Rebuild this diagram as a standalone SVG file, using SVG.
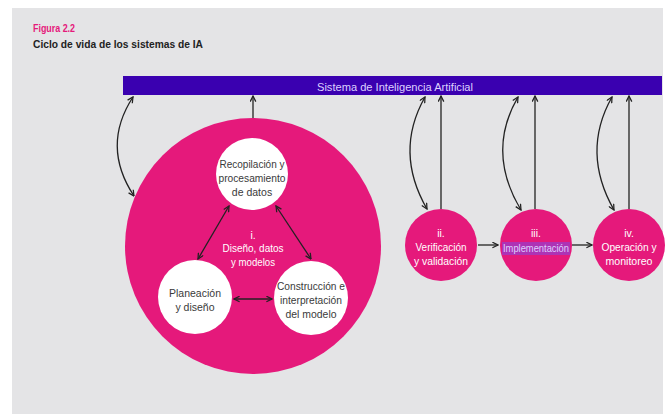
<svg xmlns="http://www.w3.org/2000/svg" width="665" height="414" viewBox="0 0 665 414">
<style>
.t{font-family:"Liberation Sans","DejaVu Sans",sans-serif;text-anchor:middle}
.dk{fill:#3a3a3a;font-size:10.5px}
.wh{fill:#ffffff;font-size:10.5px}
.ln{fill:none;stroke:#222;stroke-width:1.3}
.pink{fill:#e5197b}
</style>
<defs>
<marker id="ah" viewBox="0 0 10 10" refX="9" refY="5" markerWidth="7" markerHeight="7" markerUnits="userSpaceOnUse" orient="auto-start-reverse">
<path d="M1,1 L9,5 L1,9" fill="none" stroke="#222" stroke-width="1.8"/>
</marker>
</defs>
<rect x="0" y="0" width="665" height="414" fill="#ffffff"/>
<rect x="12" y="8" width="651" height="406" fill="#e4e4e6"/>
<text x="33" y="32" font-family="Liberation Sans,sans-serif" font-size="10.5" font-weight="bold" fill="#e5197b" textLength="42" lengthAdjust="spacingAndGlyphs">Figura 2.2</text>
<text x="33" y="48" font-family="Liberation Sans,sans-serif" font-size="10.5" font-weight="bold" fill="#222" textLength="170" lengthAdjust="spacingAndGlyphs">Ciclo de vida de los sistemas de IA</text>

<g id="bar">
<rect x="123" y="76" width="539" height="19" fill="#3a00b0"/>
<text class="t" x="395" y="91" font-size="11.5" fill="#ddd0ff" textLength="156" lengthAdjust="spacingAndGlyphs">Sistema de Inteligencia Artificial</text>
</g>

<g id="stage1">
<circle class="pink" cx="253" cy="246" r="128"/>
<text class="t wh" x="253" y="239">i.</text>
<text class="t wh" x="253" y="252" textLength="61" lengthAdjust="spacingAndGlyphs">Diseño, datos</text>
<text class="t wh" x="253" y="266" textLength="44" lengthAdjust="spacingAndGlyphs">y modelos</text>
</g>
<g id="recopilacion">
<circle cx="252" cy="174" r="36" fill="#fff"/>
<text class="t dk" x="252" y="168" textLength="65" lengthAdjust="spacingAndGlyphs">Recopilación y</text>
<text class="t dk" x="252" y="182" textLength="67" lengthAdjust="spacingAndGlyphs">procesamiento</text>
<text class="t dk" x="252" y="196">de datos</text>
</g>
<g id="planeacion">
<circle cx="195" cy="297" r="37" fill="#fff"/>
<text class="t dk" x="195" y="297">Planeación</text>
<text class="t dk" x="195" y="311">y diseño</text>
</g>
<g id="construccion">
<circle cx="311" cy="298" r="37" fill="#fff"/>
<text class="t dk" x="311" y="290" textLength="68" lengthAdjust="spacingAndGlyphs">Construcción e</text>
<text class="t dk" x="311" y="304" textLength="62" lengthAdjust="spacingAndGlyphs">interpretación</text>
<text class="t dk" x="311" y="318" textLength="51" lengthAdjust="spacingAndGlyphs">del modelo</text>
</g>
<g id="stage2">
<circle class="pink" cx="441" cy="245" r="36"/>
<text class="t wh" x="441" y="237">ii.</text>
<text class="t wh" x="441" y="251" textLength="51" lengthAdjust="spacingAndGlyphs">Verificación</text>
<text class="t wh" x="441" y="265" textLength="54" lengthAdjust="spacingAndGlyphs">y validación</text>
</g>
<g id="stage3">
<circle class="pink" cx="536" cy="245" r="36"/>
<text class="t wh" x="536" y="237">iii.</text>
<rect x="502" y="242" width="68" height="13" fill="#9a3cc8" opacity="0.75"/>
<text class="t" x="536" y="252" font-size="10.5" fill="#ddd0ff" textLength="66" lengthAdjust="spacingAndGlyphs">Implementación</text>
</g>
<g id="stage4">
<circle class="pink" cx="629" cy="245" r="36"/>
<text class="t wh" x="629" y="237">iv.</text>
<text class="t wh" x="629" y="251" textLength="55" lengthAdjust="spacingAndGlyphs">Operación y</text>
<text class="t wh" x="629" y="265" textLength="47" lengthAdjust="spacingAndGlyphs">monitoreo</text>
</g>

<g id="connectors">
<path class="ln" d="M229,206 L198,259" marker-start="url(#ah)" marker-end="url(#ah)"/>
<path class="ln" d="M276,206 L311,259" marker-start="url(#ah)" marker-end="url(#ah)"/>
<path class="ln" d="M234,299 L272,299" marker-start="url(#ah)" marker-end="url(#ah)"/>
<path class="ln" d="M478,245 L498,245" marker-end="url(#ah)"/>
<path class="ln" d="M572,245 L592,245" marker-end="url(#ah)"/>
<path class="ln" d="M253,118 L253,96" marker-end="url(#ah)"/>
<path class="ln" d="M441,209 L441,96" marker-end="url(#ah)"/>
<path class="ln" d="M535,209 L535,96" marker-end="url(#ah)"/>
<path class="ln" d="M629,209 L629,96" marker-end="url(#ah)"/>
<path class="ln" d="M133,97 Q101,146 134,196" marker-start="url(#ah)" marker-end="url(#ah)"/>
<path class="ln" d="M425,97 Q394,152 427,209" marker-start="url(#ah)" marker-end="url(#ah)"/>
<path class="ln" d="M518,97 Q486,152 521,210" marker-start="url(#ah)" marker-end="url(#ah)"/>
<path class="ln" d="M612,97 Q581,152 614,210" marker-start="url(#ah)" marker-end="url(#ah)"/>
</g>
</svg>
